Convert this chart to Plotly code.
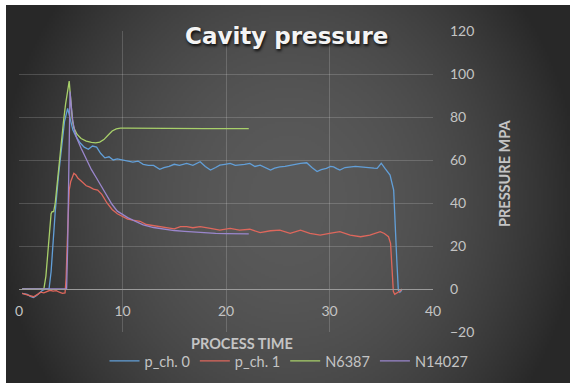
import base64, struct, zlib
import plotly.graph_objects as go

# ---------------- data ----------------
t_ch0 = [0.3,0.8,1.1,1.4,1.7,2.0,2.3,2.6,2.9,3.1,3.3,3.5,3.8,4.1,4.4,4.7,4.8,5.0,5.2,5.5,5.9,6.3,6.7,7.1,7.5,
         7.9,8.3,8.7,9.1,9.5,10.0,10.5,11.0,11.5,12.0,12.5,13.0,13.6,14.0,14.5,15.0,15.5,16.2,16.8,17.5,18.0,
         18.5,19.0,19.4,19.9,20.4,20.9,21.3,21.8,22.3,22.8,23.3,23.8,24.3,24.7,25.2,25.7,26.2,26.7,27.2,27.8,
         28.3,28.8,29.2,29.7,30.1,30.4,30.7,31.0,31.5,32.0,32.5,33.0,33.5,33.9,34.3,34.6,35.0,35.36,35.85,
         36.2,36.3,36.5,36.65,36.8,37.0]
v_ch0 = [-2,-2.5,-3.5,-4,-3,-1.5,-0.5,0,0,8,22,36,52,66,78,84,82,77,74,71,68,66,65,66.5,66,
         63,61,61.5,60,60.5,60,59.5,59,59.5,58,57.5,57.5,55.7,56.5,57,58,57.5,58.4,57.5,59.2,57,
         55.3,56.5,57.6,58,58.4,57.5,57.6,58,58.4,57,57.6,56.5,55.3,56.2,56.8,57,57.6,58,58.4,58.7,
         56.5,54.6,55.5,56.1,57,56.8,56,55.3,56.5,56.8,57,56.8,56.5,56.1,56.2,56.1,58.5,56.1,53,
         46,33.6,13.5,-0.5,-1.5,-0.5]

t_ch1 = [0.3,0.7,1.0,1.4,1.8,2.1,2.4,2.7,3.0,3.3,3.6,3.9,4.2,4.45,4.55,4.65,4.75,4.85,5.0,5.15,5.3,5.5,5.7,
         5.9,6.2,6.5,6.8,7.2,7.6,8.0,8.5,9.0,9.5,10.0,10.5,11.0,11.7,12.3,13.0,13.6,14.3,15.0,15.6,16.2,
         16.8,17.5,18.5,19.4,20.4,21.3,22.3,23.3,24.3,25.2,26.2,27.2,28.1,29.1,30.0,31.0,32.0,33.0,33.9,
         34.5,34.9,35.3,35.7,35.9,36.0,36.17,36.3,36.5,36.7,36.85,37.0]
v_ch1 = [-2,-2.5,-3,-3.6,-2.5,-1.5,-1.8,-1,-0.6,-1,-0.8,-1.5,-2,-1.8,5,20,38,46,50,52,53.8,53,51.5,
         50.7,49.5,48,47.5,46.5,46,44,40,37,35,33.6,32.5,32,31.5,30,29.5,29,28.5,28,29,29,
         28.5,29,28.2,27.4,28.2,27.4,27.8,26.2,27.1,27.4,25.9,27.4,25.9,25.1,25.9,26.7,25.1,24.3,25.1,
         26,26.7,25.8,24.3,21.2,10.4,-1.2,-2.5,-1.9,-1.5,-0.8,0]

t_n6387 = [0.3,1.0,1.5,2.0,2.4,2.6,2.8,3.0,3.1,3.2,3.35,3.5,3.7,3.9,4.1,4.3,4.5,4.7,4.85,5.0,5.15,5.3,
           5.6,6.0,6.5,7.0,7.4,7.8,8.2,8.6,9.0,9.4,9.8,10.5,12,14,16,18,20,22.2]
v_n6387 = [0,0,0,0,0,6,18,30,35,36,36,40,50,60,69,78,86,92,96.7,88,79,75,
           72,70,68.8,68.2,68,68.3,69.5,71.5,73.5,74.5,74.8,74.8,74.7,74.7,74.6,74.6,74.6,74.6]

t_n14027 = [0.3,1,2,3,4,4.6,4.7,4.8,4.93,5.05,5.2,5.4,5.6,6.0,6.5,7.0,7.5,8.0,8.5,9.0,9.5,10.0,10.5,
            11.0,12.0,13.0,14.0,15.0,16.0,17.0,18.0,19.0,20.0,21.0,22.2]
v_n14027 = [0,0,0,0,0,0,20,60,91.8,85,78,73,70,65.5,60.5,55.5,51.5,47.5,43,39.3,36.2,34.5,33.2,
            32,29.8,28.6,27.8,27.2,26.8,26.4,26.1,25.9,25.8,25.7,25.6]

series_names = ["p_ch. 0", "p_ch. 1", "N6387", "N14027"]
series_colors = ["#629FD8", "#DE675C", "#A8D06A", "#9A86CC"]

x_ticks = [0, 10, 20, 30, 40]
y_ticks = [-20, 0, 20, 40, 60, 80, 100, 120]

# ---------------- background gradient image ----------------
def gradient_png(w, h):
    cx, cy = w * 0.5, h * 0.515
    rx, ry = w * 0.52, h * 0.87
    raw = bytearray()
    for y in range(h):
        raw.append(0)
        for x in range(w):
            dx = (x - cx) / rx
            dy = (y - cy) / ry
            d2 = min(1.0, dx * dx + dy * dy)
            v = int(40 + 50 * (1 - d2))
            raw.append(v)
    def chunk(tag, data):
        c = struct.pack(">I", len(data)) + tag + data
        return c + struct.pack(">I", zlib.crc32(tag + data) & 0xffffffff)
    png = b"\x89PNG\r\n\x1a\n"
    png += chunk(b"IHDR", struct.pack(">IIBBBBB", w, h, 8, 0, 0, 0, 0))
    png += chunk(b"IDAT", zlib.compress(bytes(raw), 9))
    png += chunk(b"IEND", b"")
    return "data:image/png;base64," + base64.b64encode(png).decode()

# plot area in pixels
L, R, T, B = 19, 433, 31, 332
PW, PH = R - L, B - T
def px(x): return (x - L) / PW
def py(y): return (B - y) / PH

fig = go.Figure()
for t, v, name, col in zip([t_ch0, t_ch1, t_n6387, t_n14027],
                           [v_ch0, v_ch1, v_n6387, v_n14027],
                           series_names, series_colors):
    fig.add_trace(go.Scatter(x=t, y=v, mode="lines", name=name,
                             line=dict(color=col, width=1.3)))

grid = "rgba(255,255,255,0.17)"
tickfont = dict(family="Lato", size=14, color="#c4c4c4")

fig.update_layout(
    width=577, height=388, autosize=False,
    margin=dict(l=L, r=577 - R, t=T, b=388 - B, autoexpand=False),
    paper_bgcolor="white", plot_bgcolor="rgba(0,0,0,0)",
    font=dict(family="Lato", color="#c4c4c4"),
    xaxis=dict(range=[0, 40], tickvals=x_ticks, showgrid=True, gridcolor=grid,
               zeroline=False, anchor="free", position=20 / 140, automargin=False,
               showline=True, linecolor="#9a9a9a", linewidth=1,
               tickfont=tickfont, ticks="", ticklabelstandoff=9),
    yaxis=dict(range=[-20, 120], tickvals=y_ticks, side="right", showgrid=True,
               gridcolor=grid, zeroline=False, showline=False, automargin=False,
               tickfont=tickfont, ticks="", ticklabelstandoff=16),
    showlegend=True,
    legend=dict(orientation="h", x=px(289), xanchor="center", y=py(361), yanchor="middle",
                bgcolor="rgba(0,0,0,0)", font=dict(family="Lato", size=14.5, color="#c4c4c4"),
                itemwidth=30),
    images=[dict(source=gradient_png(282, 189), xref="paper", yref="paper",
                 x=px(6), y=py(5), sizex=564 / PW, sizey=378 / PH,
                 xanchor="left", yanchor="top", sizing="stretch", layer="below")],
    annotations=[
        dict(text="<b>Cavity pressure</b>", x=px(286), y=py(36), xref="paper", yref="paper",
             showarrow=False, xanchor="center", yanchor="middle",
             font=dict(family="DejaVu Sans", size=23, color="#f4f4f4",
                       shadow="1px 2px 3px rgba(0,0,0,0.85)")),
        dict(text="<b>PROCESS TIME</b>", x=px(242), y=py(343), xref="paper", yref="paper",
             showarrow=False, xanchor="center", yanchor="middle",
             font=dict(family="Lato", size=14.5, color="#c4c4c4")),
        dict(text="<b>PRESSURE MPA</b>", x=px(504), y=py(174), xref="paper", yref="paper",
             showarrow=False, xanchor="center", yanchor="middle", textangle=-90,
             font=dict(family="Lato", size=14.5, color="#c4c4c4")),
    ],
)

fig.write_html("out.html", config={"displayModeBar": False},
               post_script="document.body.style.margin='0';document.body.style.overflow='hidden';")
